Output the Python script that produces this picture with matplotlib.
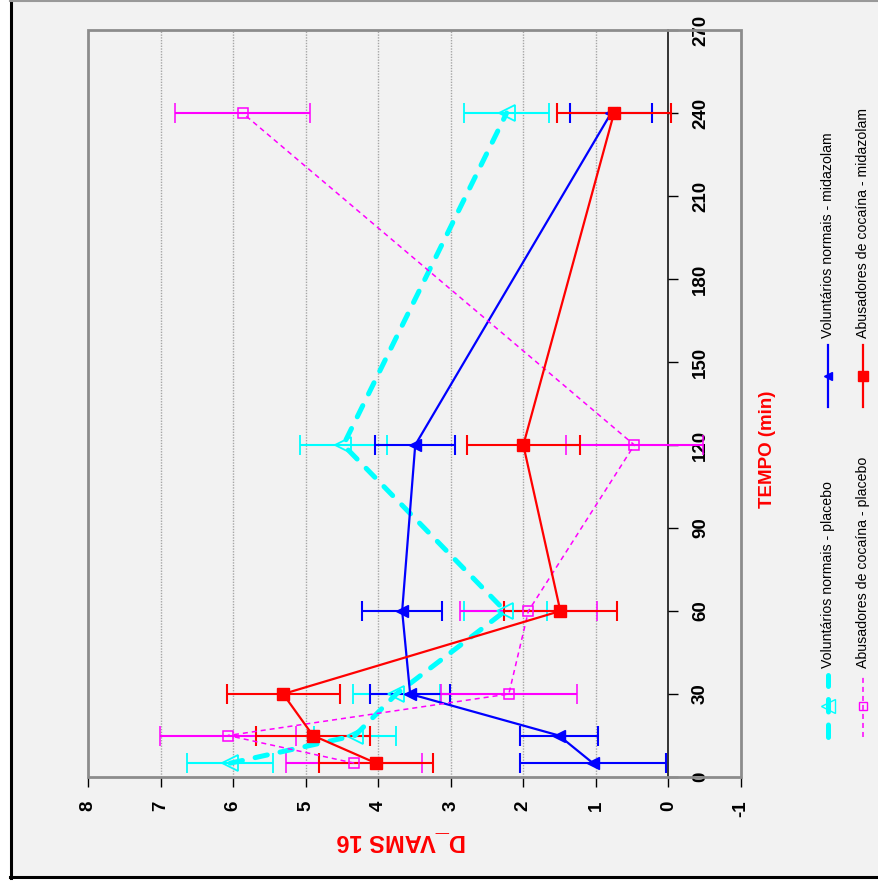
"""D_VAMS 16 over time, drawn rotated 90 degrees like the scanned page."""

import matplotlib

matplotlib.use("Agg")
import matplotlib.pyplot as plt
from matplotlib.lines import Line2D
from matplotlib.patches import Rectangle

plt.rcParams["font.family"] = ["Liberation Sans", "DejaVu Sans"]
plt.rcParams["axes.unicode_minus"] = False

W, H = 879, 884

tempo = [5, 15, 30, 60, 120, 240]

vn_placebo = [6.04, 4.32, 3.75, 2.25, 4.48, 2.23]
vn_placebo_err = [0.59, 0.57, 0.60, 0.57, 0.60, 0.59]

vn_midazolam = [1.04, 1.51, 3.56, 3.67, 3.49, 0.79]
vn_midazolam_err = [1.00, 0.54, 0.55, 0.55, 0.55, 0.56]

ac_placebo = [4.33, 6.07, 2.20, 1.93, 0.47, 5.87]
ac_placebo_err = [0.94, 0.94, 0.94, 0.94, 0.94, 0.93]

ac_midazolam = [4.03, 4.90, 5.31, 1.49, 2.00, 0.75]
ac_midazolam_err = [0.78, 0.78, 0.78, 0.78, 0.78, 0.78]

labels = [
    "Voluntários normais - placebo",
    "Voluntários normais - midazolam",
    "Abusadores de cocaína - placebo",
    "Abusadores de cocaína - midazolam",
]
d_ticks = list(range(-1, 9))
t_ticks = list(range(0, 271, 30))

STYLES = [
    dict(color="#00ffff", lw=3.6, dashes=(2.5, 2.6), dash_capstyle="round",
         marker="<", ms=12, mfc="none", mec="#00ffff", mew=1.3),
    dict(color="#0000ff", lw=1.6, ls="-", marker="<", ms=8,
         mfc="#0000ff", mec="#0000ff"),
    dict(color="#ff00ff", lw=1.1, dashes=(3.3, 2.6),
         marker="s", ms=7.5, mfc="none", mec="#ff00ff", mew=1.1),
    dict(color="#ff0000", lw=1.6, ls="-", marker="s", ms=9,
         mfc="#ff0000", mec="#ff0000"),
]


def fx(px):
    return px / W


def fy(py):
    return 1 - py / H


fig = plt.figure(figsize=(W / 100, H / 100), dpi=100, facecolor="white")

# page background and border
fig.patches.append(Rectangle((fx(10), fy(878)), 1 - fx(10), fy(1) - fy(878),
                             transform=fig.transFigure, facecolor="#f2f2f2",
                             edgecolor="none", zorder=-10))
fig.add_artist(Line2D([fx(11), fx(11)], [fy(0), fy(878)], color="black", lw=2.2))
fig.add_artist(Line2D([fx(10), 1], [fy(877), fy(877)], color="black", lw=2.2))
fig.add_artist(Line2D([fx(10), 1], [fy(0.6), fy(0.6)], color="#999999", lw=1.5))

ax = fig.add_axes([fx(88), fy(777), fx(741) - fx(88), fy(30) - fy(777)])
ax.set_facecolor("none")
ax.set_xlim(8, -1)
ax.set_ylim(0, 270)

for name in ("left", "top", "bottom"):
    ax.spines[name].set_visible(False)
ax.spines["right"].set_position(("data", 0))
ax.spines["right"].set_color("black")
ax.spines["right"].set_linewidth(1.1)
ax.add_patch(Rectangle((0, 0), 1, 1, transform=ax.transAxes, fill=False,
                       edgecolor="#8c8c8c", lw=2, clip_on=False, zorder=5))

ax.set_xticks(d_ticks)
ax.set_yticks(t_ticks)
ax.yaxis.tick_right()
ax.tick_params(axis="x", direction="out", length=7, width=1, color="black",
               pad=10, labelsize=13.5, labelrotation=90)
ax.tick_params(axis="y", direction="out", length=7, width=1, color="black",
               pad=10, labelsize=13.5, labelrotation=90)
for lbl in ax.get_xticklabels() + ax.get_yticklabels():
    lbl.set_fontweight("bold")
for lbl in ax.get_yticklabels():
    lbl.set_va("center")

for d in range(1, 8):
    ax.axvline(d, color="#a6a6a6", lw=1, ls=(0, (1, 1)), zorder=0)

series = [
    (vn_placebo, vn_placebo_err),
    (vn_midazolam, vn_midazolam_err),
    (ac_placebo, ac_placebo_err),
    (ac_midazolam, ac_midazolam_err),
]
for (vals, errs), style in zip(series, STYLES):
    ax.errorbar(vals, tempo, xerr=errs, ecolor=style["color"], elinewidth=1.5,
                capsize=7, capthick=1.5, zorder=3, **style)

# axis titles, placed where they sit on the page
fig.text(fx(768), fy(449), "TEMPO (min)", color="red", fontsize=13.5,
         fontweight="bold", rotation=90, ha="center", va="center")
fig.text(fx(401), fy(841), "D_VAMS 16", color="red", fontsize=17,
         fontweight="bold", rotation=180, ha="center", va="center")

# legend, rotated with the page
legend_pos = [(828, 706), (828, 376), (863, 706), (863, 376)]
for (cx, cy), style, label in zip(legend_pos, STYLES, labels):
    line_kw = {k: v for k, v in style.items() if k not in ("marker", "ms", "mfc", "mec", "mew")}
    fig.add_artist(Line2D([fx(cx), fx(cx)], [fy(cy + 31), fy(cy - 31)], **line_kw))
    fig.add_artist(Line2D([fx(cx)], [fy(cy)], ls="none", marker=style["marker"],
                          ms=style["ms"] * 0.8, mfc=style["mfc"], mec=style["mec"]))
    fig.text(fx(cx), fy(cy - 38), label, fontsize=10.2, rotation=90,
             rotation_mode="anchor", ha="left", va="center")

fig.savefig("out.png", dpi=100, facecolor=fig.get_facecolor())
